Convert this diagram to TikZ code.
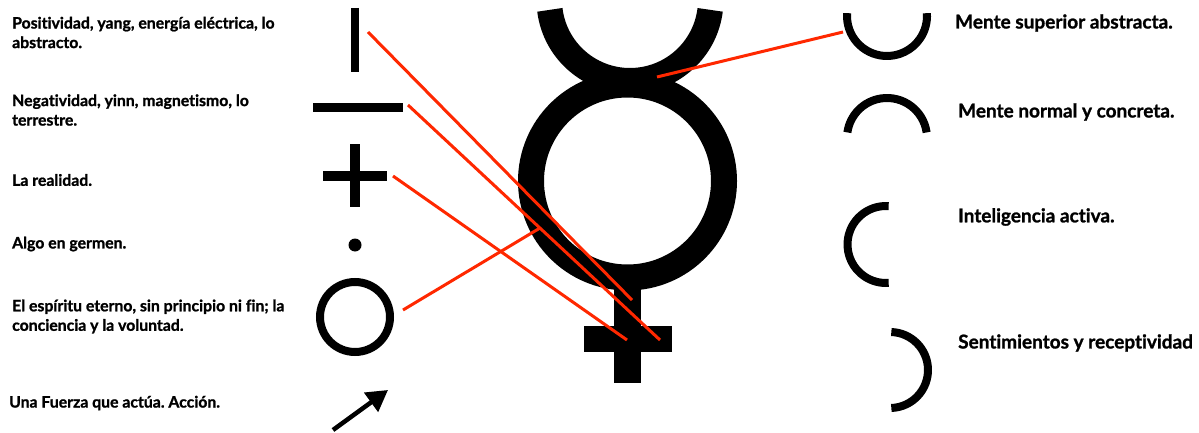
\documentclass[tikz,border=0pt]{standalone}
\usepackage{fontspec}
\setmainfont{Lato}[Ligatures=NoCommon,BoldFeatures={FakeBold=1.2}]
\usetikzlibrary{arrows.meta}
\definecolor{redline}{RGB}{255,40,0}
\frenchspacing
\begin{document}
\begin{tikzpicture}[x=1pt,y=1pt,
  lbl/.style={inner sep=0pt,anchor=west,align=left,font=\fontsize{15.8}{19.5}\selectfont\bfseries},
  rlbl/.style={inner sep=0pt,anchor=west,align=left,font=\fontsize{19}{23}\selectfont\bfseries},
  blk/.style={line width=#1,black},
  thin arc/.style={line width=8pt,black},
  conn/.style={line width=3pt,redline}]
\useasboundingbox (0,0) rectangle (1199,432);
\fill[white] (0,0) rectangle (1199,432);
% left labels
\node[lbl] (t1) at (12,399.5) {Positividad, yang, energía eléctrica, lo\\abstracto.};
\node[lbl] (t2) at (12,322) {Negatividad, yinn, magnetismo, lo\\terrestre.};
\node[lbl] (t3) at (12,252) {La realidad.};
\node[lbl] (t4) at (12,188) {Algo en germen.};
\node[lbl] (t5) at (12,115.5) {El espíritu eterno, sin principio ni fin; la\\conciencia y la voluntad.};
\node[lbl] (t6) at (9,29) {Una Fuerza que actúa. Acción.};
% right labels
\node[rlbl] (r1) at (955,409) {Mente superior abstracta.};
\node[rlbl] (r2) at (958,320) {Mente normal y concreta.};
\node[rlbl] (r3) at (958,215) {Inteligencia activa.};
\node[rlbl] (r4) at (958,89) {Sentimientos y receptividad};
% left symbols
\draw[blk=8pt] (355,424) -- (355,360);
\draw[blk=9pt] (313,324.5) -- (403,324.5);
\draw[blk=10pt] (355,288) -- (355,225);
\draw[blk=10pt] (323,256) -- (387,256);
\fill (355,187) circle[radius=6.5];
\draw[blk=8pt] (355,115) circle[radius=35];
\coordinate (atail) at (333,2);
\coordinate (ahead) at (388,42);
\draw[blk=4.5pt,-{Triangle[length=21pt,width=23pt]}] (atail) -- (ahead);
% mercury
\draw[blk=25.5pt] (630,432) ++(187:80.75) arc[start angle=187,end angle=353,radius=80.75];
\draw[blk=26pt] (627.5,251) circle[radius=96.5];
\draw[blk=27pt] (627.5,160) -- (627.5,49);
\draw[blk=26pt] (584,93) -- (672,93);
% right arcs
\draw[thin arc] (887,416) ++(176:40) arc[start angle=176,end angle=364,radius=40];
\draw[thin arc] (887,294) ++(8:40) arc[start angle=8,end angle=172,radius=40];
\draw[thin arc] (886,187.5) ++(86:38.5) arc[start angle=86,end angle=274,radius=38.5];
\draw[thin arc] (890,62) ++(-88:38) arc[start angle=-88,end angle=88,radius=38];
% connector endpoints
\coordinate (s1) at (368,400); \coordinate (e1) at (632,132);
\coordinate (s2) at (408,327); \coordinate (e2) at (660,92);
\coordinate (s3) at (393,256); \coordinate (e3) at (627,92);
\coordinate (s4) at (403,122); \coordinate (e4) at (540,204);
\coordinate (s5) at (657,355); \coordinate (e5) at (843,400);
\draw[conn] (s1) -- (e1);
\draw[conn] (s2) -- (e2);
\draw[conn] (s3) -- (e3);
\draw[conn] (s4) -- (e4);
\draw[conn] (s5) -- (e5);
\end{tikzpicture}
\end{document}
